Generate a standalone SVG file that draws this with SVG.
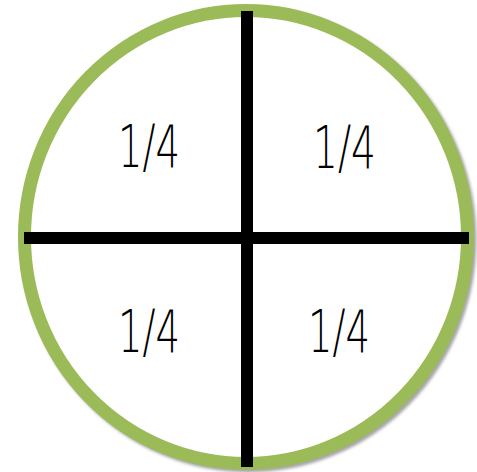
<svg xmlns="http://www.w3.org/2000/svg" width="477" height="472" viewBox="0 0 477 472">
  <defs>
    <filter id="sh" x="-10%" y="-10%" width="120%" height="120%">
      <feGaussianBlur stdDeviation="1.5"/>
    </filter>
  </defs>
  <style>
    .lbl { font-family: "DejaVu Sans", "Liberation Sans", sans-serif; font-weight: 200; font-size: 58px; fill: #000; text-anchor: middle; }
    .bar { fill: #000; }
  </style>
  <rect width="477" height="472" fill="#fff"/>
  <g id="circle">
    <ellipse cx="248.5" cy="239.5" rx="221.5" ry="226.5" fill="none" stroke="#a6a6a6" stroke-width="13" filter="url(#sh)"/>
    <ellipse cx="246" cy="237" rx="221.5" ry="226.5" fill="#fff" stroke="#9bbb59" stroke-width="13"/>
  </g>
  <g id="connectors">
    <rect class="bar" x="241" y="11" width="12" height="456"/>
    <rect class="bar" x="24" y="232" width="445" height="12"/>
  </g>
  <g id="q1"><text class="lbl" x="149" y="167" textLength="62" lengthAdjust="spacingAndGlyphs">1/4</text></g>
  <g id="q2"><text class="lbl" x="344.5" y="168" textLength="63" lengthAdjust="spacingAndGlyphs">1/4</text></g>
  <g id="q3"><text class="lbl" x="149" y="352" textLength="62" lengthAdjust="spacingAndGlyphs">1/4</text></g>
  <g id="q4"><text class="lbl" x="339" y="352" textLength="62" lengthAdjust="spacingAndGlyphs">1/4</text></g>
</svg>
